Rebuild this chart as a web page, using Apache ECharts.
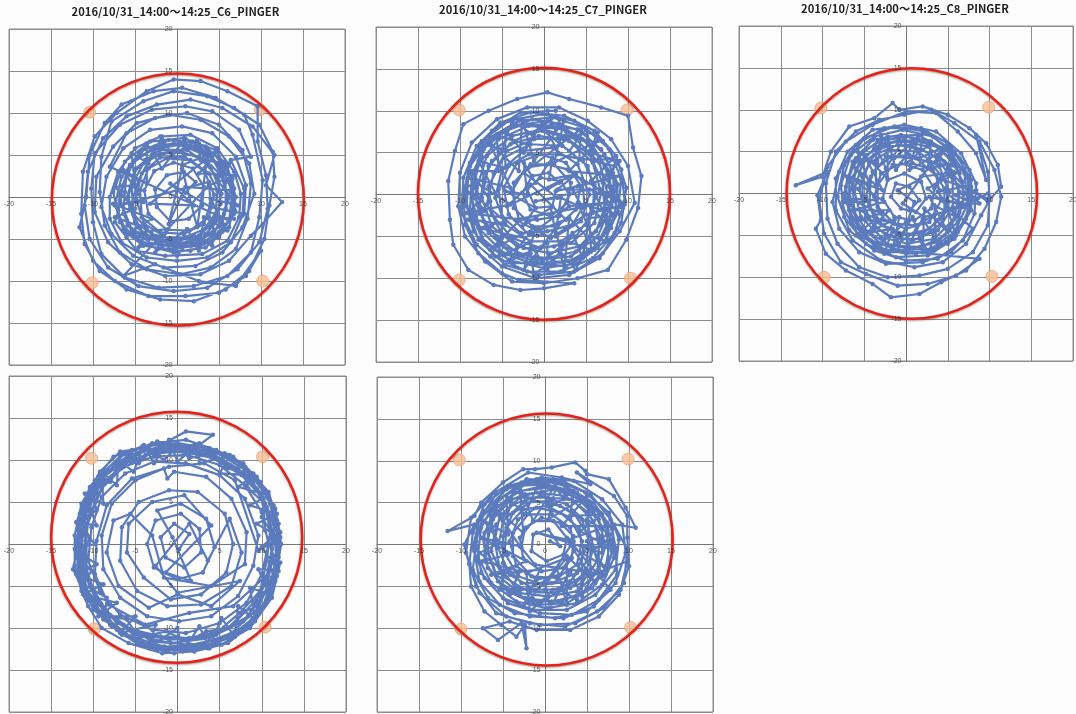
<!DOCTYPE html>
<html>
<head>
<meta charset="utf-8">
<style>
  html, body { margin: 0; padding: 0; background: #fff; }
  #chart { width: 1076px; height: 714px; }
</style>
</head>
<body>
<div id="chart"></div>
<script src="https://cdn.jsdelivr.net/npm/echarts@6/dist/echarts.min.js"></script>
<script>
const tickValues = [-20, -15, -10, -5, 0, 5, 10, 15, 20]
const titleC6 = "2016/10/31_14:00～14:25_C6_PINGER"
const titleC7 = "2016/10/31_14:00～14:25_C7_PINGER"
const titleC8 = "2016/10/31_14:00～14:25_C8_PINGER"

// the traces are far too tangled to read point by point
const c6Trace = [[1,0.5],[2.2,1.8],[0.8,3],[-1.2,2.6],[-2.6,0.9],[-2.4,-1.2],[-0.8,-2.9],[1.4,-2.6],[3,-1],[3.2,1.2],[1.9,3.4],[-0.4,4.1],[-2.7,3.1],[-3.9,0.8],[-3.4,-2],[-1.2,-3.9],[1.5,-4],[3.8,-2.4],[4.4,0.3],[3.3,3],[0.9,4.8],[-2,4.7],[-4.2,2.8],[-4.9,-0.2],[-3.9,-3.2],[-1,-5],[2.2,-4.9],[4.7,-2.8],[5.3,0.4],[4,3.6],[1.2,5.6],[-2.1,5.6],[-4.9,3.4],[-5.8,0],[-4.8,-3.6],[-1.8,-5.7],[1.7,-5.8],[5,-3.5],[6.1,-0.2],[5,3.4],[6.4,2.4],[4.4,5.2],[1,6.3],[-2.6,6],[-5.6,3.8],[-6.9,0.2],[-5.9,-3.4],[-3,-5.6],[0.6,-6],[4.2,-5.2],[6.5,-2.4],[6.8,1],[5.6,4.2],[2.6,6.4],[-1,6.8],[-4.4,5.4],[-6.6,2.4],[-7.4,-1],[-6,-4.2],[-2.4,-6.2],[1.6,-6.4],[5,-4.8],[6.9,-1.6],[6.6,2.2],[4.6,5.6],[0.8,7],[-3.2,6.6],[-6.2,4.2],[-7.6,0.6],[-6.8,-3],[-4.2,-5.6],[-0.4,-6.6],[3.4,-6],[6.2,-3.6],[7,0],[6,3.6],[3.4,6],[-0.4,6.4],[-3.8,5.8],[-6,3],[-6.8,-0.4],[-5.4,-3.8],[-2.2,-5.4],[1.2,-5.4],[4.4,-4.4],[5.8,-1.4],[5.8,1.8],[4.2,4.6],[1.4,5.8],[-2,5.2],[-5,3.2],[-6,-0.2],[-5,-3],[-2.4,-4.8],[1,-4.8],[3.8,-3.6],[5.2,-0.8],[4.8,2.4],[2.6,4.8],[-0.6,5.4],[-3.8,4.4],[-5.4,1.4],[-5.2,-2],[-3,-4.4],[0.2,-5.2],[3.4,-4.4],[5.6,-2],[6.4,0.8],[1,1.2],[-1,-3.2],[0.6,3.4],[2.4,-3.6],[3.6,4.6],[-3.2,-0.8],[2,-1],[-0.8,1.6],[4,-1.2],[8,-2],[8.2,1.4],[7,4.8],[4.2,7.6],[0.6,8.4],[-3.2,8],[-6.4,5.8],[-8.4,2.4],[-9,-1.2],[-7.8,-4.4],[-5.2,-7],[-1.6,-8.4],[2.2,-8.2],[5.4,-6.6],[7.8,-3.6],[9.2,0.4],[8.6,4],[6.2,7.2],[2.8,9.2],[-1,9.8],[-4.8,8.8],[-7.6,6],[-9.6,2.4],[-9.8,-1.8],[-8.2,-5.4],[-5.4,-8],[-1.4,-9.4],[2.8,-9.2],[6.2,-7.6],[8.8,-4.6],[10.2,-3.2],[12.5,-0.6],[10.6,1.4],[11.6,5],[9,8.4],[5.4,10.6],[1.6,11.6],[-2.4,11],[-6,9.6],[-8.8,7],[-10.6,3],[-11,-1],[-10.4,-5],[-8.2,-8.4],[-4.6,-10.6],[-0.4,-11.2],[3.6,-10.8],[7.2,-8.6],[9.8,-5.4],[10.8,-1.4],[10.6,2.6],[9.6,6.6],[9.6,10.8],[6,12.6],[2.8,13.8],[-0.4,14],[-3.6,12.6],[-7.2,10],[-9.8,7.2],[-11.2,3],[-11.4,-2],[-11,-5.6],[-9.2,-8.8],[-6,-11],[-2,-12.2],[2,-12.4],[5.8,-11],[8.6,-8.8],[10.4,-5],[11,-1],[11.6,2.4],[11.4,5.4],[9.8,8.6],[6.8,10.6],[3.6,12],[-0.4,12.6],[-4,11.4],[-7.8,9],[-9,4.8],[-9.2,0.6],[-8.6,-3.4],[-6.8,-6.6],[-3.6,-8.6],[0.4,-9.2],[4,-8.4],[7,-6.2],[8.4,-2.6],[8.8,1.6],[7.8,5.6],[5,8.6],[1.2,10],[-2.6,9.4],[-6,7.6],[-8,3.6],[6.2,-2.8],[6.6,0.6],[5.2,3.8],[3,5.4],[0.2,6.2],[-3,5.6],[-5.2,4.2],[-6.4,1.4],[-7,-1.6],[-6.4,-4],[-4,-5.8],[-1,-6.2],[2.4,-5.8],[5,-4.2],[6.8,-2],[6.6,1.4],[5.4,3],[4,5],[1.8,6.6],[-1.6,6.2],[-4.6,4.8],[-6,2.8],[-6.2,0.6],[-6.4,-2],[-5,-4.6],[-3.4,-5],[-0.4,-5.6],[2.6,-5.4],[5.4,-3.2],[6,-0.6],[5.4,2.4],[3.4,4.4],[0.4,5.4],[-3,5],[-4.6,2],[-5.6,-1.4],[-4,-4.4],[-1,-5.4],[2.6,-4.6],[4.6,-2],[4.8,0.8],[3.8,2.8],[1.6,4.4],[-1.2,4.6],[-3.4,3.4],[-4.4,0.8],[-4.2,-2.4],[-2,-4.2],[0.8,-4.4],[3.2,-3.2],[4,-0.8],[3.8,1.8],[-6.8,-1],[-7.4,-3],[-6,-4.8],[-4.8,-6.4],[-1.4,-7],[3,-6.8],[6,-5.2],[7.4,-2.4],[7.6,0.4],[6.8,3],[4.8,5.8],[1.6,7.4],[-2,7.2],[-5,5.8],[-7,3],[-8,0],[-8,-2.6],[-6.6,-5.4],[-3.6,-7.2],[0,-7.6],[3.6,-7.2],[6.4,-5.4],[7.8,-2.2],[8,1],[6.4,4.4],[8.8,4.8],[7.4,8],[4.2,10.2],[1,10.8],[-3,10.4],[-6.8,8.6],[-9.8,5.2],[-10.2,1],[-10,-3],[-9,-6.8],[-6.2,-9.6],[-2.2,-10.8],[2,-10.6],[6,-9.4],[8.8,-6.6],[9.8,-2.4],[10.2,2],[9,7.4],[8,9.8],[4.6,11.8],[0.6,13],[-2.8,12.6],[-6.6,11],[-8.6,8.8],[-10.4,5],[-10.8,0],[-11.6,-3.6],[-10,-7.6],[-7.4,-10],[-3.4,-11.8],[1,-11.8],[5,-11.4],[8.2,-9.4],[10,-6.4],[7,-10.6],[2.6,-10],[-2.6,-8],[-6.4,-9.4],[3.8,1.4],[7,2.6],[2.6,2.8],[4.8,5.4],[0.6,3.8],[1,7],[-1.8,3.4],[-3.6,6.4],[-3.6,1.6],[-6.4,3.2],[-4,-0.6],[-7.6,-0.8],[-3,-2.6],[-6,-4.4],[-1,-3.8],[-2.6,-6.6],[1.2,-3.8],[2.6,-6.4],[3.2,-2.4],[6,-4],[4,-0.2],[7.2,-1],[4.8,2],[6.2,4],[2.8,4.4],[2.4,6.8],[-0.6,5],[-1.8,7.2],[-3.4,4],[-5.4,5.2],[-5,1.4],[-7.4,1.2],[-5,-1.4],[-7.4,-2.4],[-3.6,-3.8],[-4.6,-6],[-1,-5],[0,-7],[2,-4.6],[4.2,-5.8],[4.4,-2.4],[6.8,-2.6]]

const c7Trace = [[0.4,0.6],[1.8,1.4],[0.6,2.6],[-1.4,2.2],[-2.6,0.2],[-1.6,-1.8],[0.8,-2.6],[2.8,-1],[3.2,1.4],[1.2,3.6],[-1.6,3.6],[-3.6,1.4],[-3.6,-1.6],[-1.4,-3.8],[1.6,-3.8],[3.8,-1.8],[4.4,1],[2.6,3.8],[-0.4,4.8],[-3.2,3.8],[-4.8,0.8],[-4.2,-2.4],[-1.8,-4.8],[1.4,-5],[4.4,-3.2],[5.4,0],[4,3.6],[1,5.6],[-2.4,5.2],[-5,3],[-5.8,-0.4],[-4.6,-3.6],[-1.6,-5.6],[2,-5.6],[5,-3.6],[6.2,-0.2],[5.2,3.4],[2.2,5.8],[-1.6,6],[-4.8,4.4],[-6.6,1],[-6.2,-2.4],[-3.8,-5.2],[-0.4,-6.4],[3.2,-5.8],[6,-3.4],[6.8,0.2],[5.8,3.8],[3,6.4],[-0.6,7],[-4,6],[-6.6,3.4],[-7.4,-0.4],[-6.2,-3.8],[-3.2,-6.2],[0.6,-7],[4.2,-6.2],[6.8,-3.6],[7.6,0],[6.6,3.8],[3.8,6.6],[0,7.8],[-3.8,7],[-6.8,4.6],[-8,0.8],[-7.2,-3.2],[-4.8,-6.2],[-0.8,-7.8],[3.2,-7.4],[6.4,-5],[8,-1.2],[7.8,2.6],[5.8,5.8],[2.2,7.8],[-1.8,8.2],[-5.4,6.6],[-7.8,3.6],[-8.6,-0.4],[-7.6,-4.2],[-4.8,-7],[-1,-8.4],[3,-8],[6.4,-6],[8.4,-2.6],[8.8,1.2],[7.2,4.8],[4.4,7.6],[0.4,8.8],[-3.6,8.2],[-6.8,6],[-8.6,2.4],[-8.8,-1.8],[-7.4,-5.2],[-4.2,-7.8],[0,-8.8],[4,-8.2],[7.2,-5.6],[8.8,-2],[9.2,1.8],[7.8,5.4],[4.8,8],[1,9.2],[-3,8.8],[-6.4,6.8],[-8.8,3.4],[-9.4,-0.6],[-8.4,-4.4],[-5.8,-7.4],[-2,-9.2],[2,-9.2],[5.8,-7.6],[8.4,-4.6],[9.6,-0.8],[9.2,3],[7,6.4],[3.6,8.8],[-0.2,9.6],[-4.2,8.8],[-7.4,6.4],[-9,2.8],[-9.2,-1.4],[-7.8,-5.4],[-4.6,-8.4],[-0.6,-9.6],[3.6,-9.2],[7,-7],[9.2,-3.4],[9.8,0.8],[8.6,4.6],[6,7.6],[2.4,9.4],[-1.6,9.8],[-5.2,8.6],[-8,5.8],[-9.6,2],[-9.8,-2.2],[-8,-6],[-5,-8.6],[-1,-10],[3,-9.6],[6.6,-7.6],[9,-4.4],[10.8,-1],[10,3.4],[8,6.6],[5.2,8.8],[1.8,10.4],[-2,10.4],[-5.6,9],[-8.6,6.2],[-10,2.6],[-10.2,-1.4],[-9.4,-5],[-7,-8],[-3.8,-10.4],[0,-10.6],[4,-10],[7.6,-9],[9.8,-5.4],[11.2,-1.6],[11.6,2.2],[10.6,5.6],[10,9.4],[6.8,10.4],[3,11.4],[0.4,12.2],[-3.2,11.4],[-6.6,10],[-9.6,8.4],[-10.6,5.2],[-11.4,1.6],[-11.2,-3],[-10.8,-6],[-9,-9],[-6,-10.8],[-2.8,-11.4],[0,-11.2],[3.6,-10.6],[-3,-10.2],[-5,-9.4],[-7.8,-7],[-9.4,-3.6],[-9.6,0],[-8.8,3.8],[-6.2,7.6],[-2.8,9.8],[1.4,10],[0.4,10],[2,6],[-2.4,2.6],[1.6,-0.4],[-1,-0.8],[5.4,0.6],[9,-0.8],[3,-1.4],[-1.4,-4.6],[2.6,-3],[-1.6,1.2],[-4.4,-1.4],[3.6,2.4],[9.6,-1.2],[5,-2.4],[0.8,-5.2],[-3.4,-3],[8.4,-0.8],[8.2,2.6],[6.8,5.4],[4,7.8],[0.8,8.2],[-2.4,8.4],[-5.6,7.2],[-7.6,5],[-8.6,1],[-8.4,-2.6],[-7,-5.8],[-3.6,-8.2],[-0.2,-8.2],[2.6,-8.6],[5.6,-6.8],[7.8,-4],[9,-1.4],[8.4,2],[6.6,4.4],[4.6,6.6],[1.6,8.4],[-1.4,9],[-4.6,7.6],[-7.2,5.4],[-8.2,2],[-8,-1.2],[-6.6,-4.6],[-4,-7],[-0.4,-8.2],[3.6,-7.8],[6,-6.6],[7.8,-3],[8.2,0.4],[7.2,3.4],[5.2,6.4],[2.4,7],[-0.8,7.6],[-3.6,6.4],[-6.2,4],[-7.2,1.6],[-7.8,-2],[-5.8,-5],[-2.8,-7.2],[0.4,-7.6],[3.8,-6.8],[6.2,-4.4],[7.2,-1.6],[7,1.4],[5.4,4.8],[2.6,6.8],[-1.2,6.6],[-4.4,5.2],[-6,2.6],[-6.8,-1.2],[-5.2,-4.4],[-2.4,-6.4],[1.2,-6.2],[3.8,-5],[5.8,-2.2],[6,1.2],[4.6,4.2],[1.6,4.8],[-1.8,4.8],[-4.2,3.4],[-5.4,0.6],[-5,-2.6],[-2.8,-4.6],[0.4,-4.4],[3.4,-3.6],[4.8,-1.2],[4.6,1.6],[2.8,3],[0.4,3.6],[-2.2,3.2],[-3.8,0.4],[-3,-3],[-0.8,-3],[1.8,-2.6],[3,0],[2,1.6],[-0.4,2],[-2,0.6],[-1,-1.6],[1,-1.4],[1.4,0.4],[4,1],[9,2.2],[3,2.8],[6.4,6.4],[1.2,3.8],[2.4,8.8],[-1.2,4],[-2.6,9],[-3,2.8],[-6.6,6.4],[-4,0.8],[-9,2],[-4,-1.2],[-9.2,-2.2],[-2.8,-3],[-6.4,-6.6],[-1,-4],[-2.4,-9],[1.4,-4],[2.4,-9],[3,-2.8],[6.4,-6.4],[4,-1],[9,-2.4],[5.6,1.6],[8.2,4.2],[4.2,4.2],[4.4,7.8],[1.4,5.6],[-0.2,8.6],[-2.4,5],[-4.6,7.6],[-4.6,3.2],[-7.8,4],[-5.8,0.2],[-8.4,0],[-4.6,-3.2],[-7.8,-4],[-2.2,-5.2],[-4.2,-8],[0.4,-5.8],[0.4,-9],[3.4,-4.6],[4.6,-7.6],[5.6,-1.6],[8,-4],[6,0.2],[8.6,0.4],[7.2,2],[9,4],[5.4,5],[6.4,7.4],[2.8,7],[1.4,9.4],[-1.4,7.2],[-3.8,8.8],[-5,5.4],[-7.4,6],[-7.2,1.8],[-9.4,0.8],[-7,-2],[-9.2,-3],[-5,-5.2],[-6.4,-7.4],[-1.6,-7],[-1.2,-9.6],[2,-7],[3.8,-9],[5.4,-5],[7.6,-5.6],[7.2,-1.6],[9.4,-1.6],[7.6,1],[8.4,3.4],[6,4],[5,7.8],[3,5.2],[-0.6,8],[-2,6],[-5.6,7],[-5.4,2.8],[-8.6,2.8],[-6.4,-0.8],[-8.4,-3],[-5,-3.6],[-5.4,-7.4],[-1.8,-5.8],[-0.2,-8],[2.8,-5.6],[5.6,-6.6],[5.4,-2.8],[8.2,-2.6],[6.8,0.6],[1.6,0.6],[3.8,2.4],[0.6,1.8],[1,4.4],[-1,1.4],[-2.4,3.8],[-2,0],[-4.6,0.4],[-1,-1.6],[-2.6,-3.8],[0.8,-1.6],[1.4,-4.6],[2,-0.4],[4.6,-1.6],[3.4,0.6]]

const c8Trace = [[0.4,-2],[1.6,-0.8],[0.4,0.8],[-1.2,1.2],[-1.8,-0.4],[-0.6,-1.8],[1.2,-2.2],[2.4,-0.6],[1.8,1.4],[-0.2,2.4],[-2.2,1.6],[-2.8,-0.6],[-1.4,-2.8],[1,-3.2],[3,-1.8],[3.4,0.6],[2,2.8],[-0.6,3.6],[-3,2.4],[-3.8,-0.4],[-2.6,-3.2],[0,-4.2],[2.8,-3.4],[4.2,-0.8],[3.6,2.2],[1.2,4.2],[-1.8,4.4],[-4,2.6],[-4.8,-0.4],[-3.6,-3.4],[-1,-4.8],[2,-4.8],[4.4,-2.8],[5.2,0.2],[4,3.2],[1.4,5],[-1.8,5.2],[-4.4,3.6],[-5.6,0.6],[-4.8,-2.8],[-2.4,-5],[0.8,-5.6],[3.8,-4.4],[5.6,-1.6],[5.6,1.6],[3.6,4.4],[0.6,5.8],[-2.6,5.6],[-5.2,3.6],[-6.2,0.4],[-5.4,-2.8],[-3,-5.2],[0.2,-6],[3.4,-5.4],[5.8,-3],[6.4,0.2],[5.2,3.4],[2.6,5.6],[-0.8,6.4],[-3.8,5.4],[-6,3],[-6.8,-0.4],[-5.8,-3.6],[-3,-6],[0.4,-6.6],[3.8,-5.8],[6.2,-3.4],[7,0],[6,3.4],[3.4,5.8],[0,6.8],[-3.4,6.2],[-6,4.2],[-7.2,0.8],[-6.6,-2.8],[-4.2,-5.6],[-0.8,-6.8],[3,-6.6],[5.8,-4.6],[7.4,-1.2],[7,2.4],[4.8,5.2],[1.4,7],[-2.2,6.8],[-5.2,5],[-7,2],[-7.6,-1.6],[-5.8,-4.8],[-2.6,-6.8],[1.2,-7.2],[4.8,-5.8],[7.2,-3],[7.8,0.8],[6.4,4.2],[3.2,6.8],[-0.4,7.6],[-3.8,6.8],[-6.6,4.6],[-7.8,1],[-7.4,-2.8],[-4.8,-6],[-1.2,-7.6],[2.6,-7.4],[5.8,-5.4],[7.8,-2],[7.8,1.6],[5.8,5],[2.2,7.4],[-1.4,8],[-5,6.6],[-7.4,3.4],[-8.2,-0.4],[-6.8,-4.4],[-3.8,-6.8],[0,-8],[3.8,-7.8],[6.8,-5.6],[8.2,-2.4],[8.4,1.2],[6.6,4.8],[3.6,7.4],[-0.2,8.2],[-4,7.6],[-7,5],[-8.4,1.8],[-8.4,-2],[-6.4,-5.6],[-3,-8],[1,-8.8],[4.4,-8.2],[7.2,-6],[9,-2.6],[10,-0.8],[7.6,0.6],[9.8,-1],[11.4,0.8],[11,3.4],[9.6,6],[7.6,7.8],[5,9.4],[2,10.4],[-0.8,10],[-1.6,10.8],[-3.8,9],[-6.8,8],[-9,5],[-10,2],[-13.2,1],[-9.4,2.6],[-10.6,-0.2],[-10.2,-3.2],[-10.8,-4.2],[-9.6,-7.2],[-7.2,-9.2],[-4,-10.8],[-1.8,-12.4],[1.6,-12],[4.2,-10.6],[7.2,-9.2],[9.4,-6.6],[10.8,-3.4],[11.4,-0.4],[10.6,2.8],[8.8,6.2],[5.8,8.4],[3,10],[-0.2,9.4],[-3.2,8.8],[-6,7.4],[-8.4,5],[-9.6,1.2],[-9.4,-3],[-8.2,-6],[-5.6,-8.8],[-2.2,-10],[1.6,-9.8],[5,-9],[8,-7],[9.8,-3.8],[10,-0.4],[9.8,2.6],[8.4,7],[9.6,1.6],[8.4,4.8],[6.2,7.4],[3.6,9.6],[0,9.8],[-4,8.2],[-7.2,6.2],[-9.4,3.2],[-10.4,-0.8],[-9.8,-4.8],[-7.8,-8.2],[-4.8,-9.6],[-1,-11],[2.6,-10.8],[6,-9.8],[8.8,-7.8],[-1,-6.8],[1,-1],[-1,0.4],[1.6,1.6],[-0.4,-1.2],[2.2,-2.8],[6.8,-1.6],[6.8,1.4],[5.4,4.2],[2.8,6.2],[-0.6,7],[-4,6.4],[-6.4,3.8],[-7.4,0],[-6.4,-3.6],[-3.6,-6.4],[0,-7.2],[3.4,-6.8],[6.2,-4.6],[7.6,-1.8],[7.4,1.8],[5.6,4.6],[3,6.2],[0,6.2],[-3,6],[-5.6,3.8],[-6.4,1.2],[-6.2,-2.2],[-4.6,-4.6],[-1.8,-6.2],[1.8,-6.4],[4.6,-5],[6.4,-2.2],[6.2,1],[4.6,3.8],[2,5.2],[-1,5.8],[-3.8,4.6],[-5.2,2.2],[-5.2,-1.2],[-3.8,-4],[-1.2,-5.4],[1.6,-5.4],[4.2,-3.6],[5,-1.2],[4.8,1.4],[3,3.6],[0.4,4.6],[-2.4,4.4],[-4.2,2],[-4.4,-1.4],[-2.8,-3.8],[0.2,-5],[2.8,-4.2],[4.6,-2.2],[4.6,0.6],[3.2,2.8],[0.8,3.6],[-1.6,3.4],[-3.4,1],[-3.4,-1.6],[-1.4,-3.6],[1.2,-3.8],[3.4,-2.6],[8.6,-0.6],[9.8,0],[7.6,-1],[6,-0.2],[8.4,0.4],[6.4,-1.2],[8.8,-1.2],[5,3],[6.4,2.4],[4.2,5.4],[1,6.4],[-2,6],[-4.8,4.6],[-6.8,1.4],[-6.8,-2],[-5,-5.2],[-2,-7],[2,-7],[5,-6],[7,-3.4],[8,-0.8],[7.6,2.8],[5,6],[1.8,7.8],[-2.6,7.8],[-6,5.8],[-8,2.6],[-8.8,-1],[-8,-4.2],[-5.6,-7],[-2.4,-8.4],[2,-8.2],[5.4,-7],[8,-4.2],[2.6,0.6],[6.4,2.6],[1.8,2],[4.6,5.2],[0.4,2.8],[1.4,6.6],[-1.2,2.8],[-2.2,6.6],[-2.2,1.8],[-5,4.6],[-2.8,0.4],[-6.6,1.8],[-2.6,-1],[-6.4,-2],[-2,-2],[-4.8,-4.8],[-0.8,-2.8],[-1.6,-6.6],[0.8,-2.8],[2,-6.4],[2.2,-1.8],[5,-4.6],[2.8,-0.4],[6.6,-1.2],[3.4,1],[5.6,3.6],[2.6,3],[3,6],[0,3.6],[-0.2,6.6],[-2.4,3],[-3.6,5.6],[-3.6,1],[-6,3],[-3.6,-0.8],[-6.8,-0.6],[-3,-2.4],[-5.8,-3.2],[-1.4,-3.2],[-3,-6],[0,-3.4],[0.2,-6.4],[2,-3],[3.6,-5.6],[3.4,-1.4],[6,-2.8],[3.8,0.2],[6.8,0.8],[4,1.8],[7,3],[3.6,3.6],[5,5.8],[1.6,4.2],[2,7.2],[-1.4,4.2],[-3,7],[-3.4,3.4],[-5.8,5],[-4.4,1.2],[-7.4,2.2],[-4.4,-1],[-7.6,-1],[-3.6,-3],[-6,-5],[-1.6,-4.2],[-2.6,-7.2],[1.2,-4.4],[2.8,-7.2],[3.6,-3.2],[6,-5],[4.6,-0.8],[7.6,-1.6]]

const c9Trace = [[0.2,-0.6],[1.4,1.2],[-0.4,2.4],[-2,0.8],[-1.4,-1.6],[0.8,-2.8],[2.8,-1],[2.6,1.8],[0.4,3.6],[-2.6,2.8],[-3.6,0],[-2.8,-2.8],[0,-4.2],[3,-3.4],[4.4,-0.4],[3.4,3],[0.4,4.8],[-2.4,4],[-0.6,0.8],[1.6,-4.4],[-1.4,-3.4],[4,2.2],[0.8,5.8],[-3,5],[-5.8,2.4],[-6,-1],[-4,-4],[-0.8,-6.6],[2.8,-6],[5.8,-3.4],[6.6,0],[5.6,3.6],[2.4,6.2],[-1,6.4],[-4.6,5],[-6.6,2],[-6.8,-2],[-4.8,-5.6],[-1.2,-7.4],[2.8,-7.2],[6.4,-5],[7.6,-1],[6.2,3],[3.6,-2],[1.4,2.4],[-2.6,-2.6],[0,-5.8],[7.4,-4.4],[4,-7.4],[0,-6],[-3.4,-7.6],[-7,-5],[-8.4,-1],[-7.6,2.8],[-5.6,3.6],[-3,1],[-1.6,-4],[4,-5],[8,-2.4],[8.2,1.4],[6.4,5.4],[3.4,8],[-0.4,8.6],[-1.2,7.8],[-1.6,9],[-5,7.6],[-7.8,4.8],[-9,1],[-8.8,-3],[-6.8,-6.4],[-3.6,-8.6],[0.2,-9.2],[4,-8.6],[7.2,-6.2],[9,-2.6],[9.6,1],[8,5.4],[5,8.2],[1,9.6],[-2.8,9.8],[-6.2,8.4],[-9,5.6],[-10.2,2],[-10.6,-2],[-9.2,-5.6],[-6.8,-8.4],[-3,-10.2],[1,-10.6],[5,-9.4],[8.2,-7],[10,-3.6],[10.8,0],[10,3.8],[8,7],[5,9.4],[1.2,10.6],[-2.8,10.4],[-6.4,9.2],[-9,6.6],[-10.6,3],[-11.2,-1],[-10.4,-4.8],[-8.4,-8],[-5,-10.6],[-1,-11.4],[3,-11.2],[6.6,-9.6],[9.2,-6.8],[11,-3],[11.4,0.8],[10.6,4.4],[8.6,7.6],[5.4,10],[1.4,11.2],[-2.6,11],[-6.2,9.6],[-9.2,7],[-11,3.2],[-11.8,-0.8],[-11.2,-4.6],[-9,-8.4],[-5.6,-11],[-1.6,-12.2],[2.6,-12],[6.4,-10.6],[9.6,-7.6],[11.4,-3.4],[12,0.8],[11.4,4.6],[9.4,8],[6,10.6],[2,11.8],[-2,11.6],[-5.8,10.6],[-9,8],[-11,4.4],[-12,0.4],[-11.8,-3.6],[-10,-7.8],[-6.6,-10.8],[-2.4,-12.6],[2,-12.6],[6.2,-11],[9.6,-8.4],[11.6,-4.4],[12.3,0],[11.6,4.2],[9.8,7.4],[6.6,10.4],[2.6,11.8],[4.2,13],[1,13.4],[-1.6,12],[-5.4,11.2],[-6.8,11],[-9.2,8.6],[-11.4,4.8],[-12.2,1],[-12.2,-2.6],[-11.4,-5.6],[-10.6,-7.4],[-9,-10],[-5.8,-11.8],[-1.8,-13],[2,-12.8],[6,-11.8],[9.2,-9.2],[11,-5.6],[12,-1.6],[11.8,2.8],[10.4,6.4],[8,9.2],[4.6,11.2],[1,12.4],[-3,12],[-6.8,10.4],[-9.8,7.6],[-11.6,3.6],[-12,-1.4],[-11,-5.4],[-8.8,-9],[-5.2,-11.4],[-1.2,-12.6],[3,-12.2],[6.8,-11],[9.8,-8],[11.8,-3.8],[11.8,1.6],[10.8,5.4],[8.4,8.6],[4.8,10.8],[0.6,11.8],[-3.4,11.2],[-7.2,9.8],[-9.8,6.6],[-11.4,2.6],[-11.6,-2],[-10.6,-6],[-8,-9.6],[-4.2,-11.8],[0,-12.4],[4.2,-11.8],[8,-10],[10.6,-6.6],[11.8,-2.6],[11.4,2.4],[10,6],[7.2,9],[3.6,11],[-0.8,11.6],[-4.8,10.8],[-8.2,8.6],[-10.6,5],[-11.4,0.4],[-10.8,-4.2],[-8.8,-8],[-5.2,-10.8],[-0.8,-11.8],[3.8,-11.2],[7.8,-9.2],[10.4,-5.8],[11.4,-1.4],[10.4,1.6],[10.2,4.8],[8.8,7.8],[6.2,9.4],[3,10.6],[-0.4,11],[-3.8,10.6],[-6.6,9.6],[-9.6,7.4],[-10.4,4.2],[-10.8,1],[-11,-2.6],[-10,-5.4],[-8,-8.6],[-5.4,-10.2],[-2,-11],[1.4,-11.2],[4.8,-10.4],[7.4,-8.2],[9.8,-5.6],[10.6,-2],[11,1.6],[10.2,5.4],[7.6,8.2],[4.2,10.2],[0.4,11.2],[-3.4,11.4],[-7,9.2],[-9.4,6],[-10.8,2.4],[-10.8,-3],[-9.6,-6.6],[-7.2,-9.4],[-3.4,-11],[0.6,-11.4],[4.6,-10.8],[8.4,-8.6],[10.4,-4.8],[11.2,-0.6],[11,3.4],[9.4,6.6],[6.6,9],[3.2,11],[-1.4,11.6],[-5.2,9.8],[-8.6,7.6],[-10.2,3.6],[-11.6,-0.2],[-11.6,-4.4],[-9.4,-7.2],[-6.4,-9.6],[-3,-11.6],[1.6,-12],[5.4,-11.2],[8.6,-9.4],[11,-6.4],[11.6,-2.8],[12.2,1.4],[11,4.8],[9,8.4],[5.6,10.8],[1.8,11.4],[-2.4,12.2],[-6,10.2],[-9.4,8],[-11.2,4.2],[-11.8,0],[-12.4,-3],[-10.6,-6.8],[-7.8,-9.8],[-4.6,-12],[-0.4,-13],[3.6,-12.4],[7.4,-10.4],[10.2,-7.4],[11.2,-4],[12,-0.6],[12,2.4],[10.8,6.2],[7.8,9.6],[3.8,11.4],[0,12],[-4.2,11.6],[-7.6,10.4],[-10.4,6.8],[-12,2.6],[-11.2,-3],[-9.8,-6.4],[-7.2,-10.2],[-3.2,-12.4],[1,-12.4],[5.2,-12],[8.6,-10],[11.2,-6.4],[12.2,-2.2],[6.6,-7.4],[1.4,-8.2],[-3.8,-9.6],[-8.2,-7.2],[-9.8,-3.6],[-9.6,0.4],[-8.4,4.6],[-5.4,7.8],[-1,9.2],[3.2,9.6],[6.8,7.6],[9.6,-0.8],[12.2,0.8],[9.4,2.4],[11.8,3.6],[8.6,4.6],[10.8,5.8],[7.2,6.8],[9,8.2],[5,8.4],[6.2,10.6],[2.6,9.6],[2.6,12],[0,9.8],[-1,12.4],[-2.8,9.6],[-4,11.8],[-5.2,8.6],[-7,10],[-7.2,7],[-9,8.6],[-8.8,4.8],[-11,6],[-9.6,2.2],[-12,2.6],[-9.8,0],[-12.2,-0.6],[-9.6,-2.4],[-12,-3.6],[-8.8,-4.8],[-11.2,-6],[-7.2,-7],[-9.4,-8.6],[-5,-8.6],[-6.8,-10.6],[-2.6,-9.6],[-3.4,-12.4],[0,-10],[0.6,-12.8],[2.6,-9.8],[3.8,-12.4],[5.2,-8.8],[6.8,-11],[7.2,-7.4],[9.2,-9],[8.6,-5.2],[11,-6],[9.6,-3],[12,-3.2],[10,-0.4],[11.4,1],[10,3.2],[10.4,4.8],[8.4,6.6],[8,8.6],[5.8,9],[4.2,11],[1.4,10.2],[0.2,11.8],[-1.6,10],[-3.2,11],[-4.6,9.6],[-6,10.4],[-8,7.4],[-10.2,6.4],[-9.6,4],[-11.4,3],[-10.4,0.6],[-11.6,-1.6],[-10.2,-3.2],[-11.2,-4.8],[-8.4,-6.4],[-8.6,-8.4],[-6,-9],[-4.6,-11.2],[-1.4,-10.4],[1.2,-11.6],[3.4,-10.4],[6,-10],[8,-8],[9.6,-7.4],[10.4,-4],[11.4,-2]]

const c10Trace = [[0.6,0.4],[1.8,-0.2],[0.4,1.8],[-1.4,1.2],[-1.6,-0.8],[0.2,-2],[2.2,-1.2],[2.6,0.8],[1,2.8],[-1.4,2.8],[-3,0.8],[-2.6,-1.6],[-0.4,-3.2],[2.2,-2.8],[3.6,-0.6],[3,2],[0.8,3.6],[-2,3.6],[-3.8,1.4],[-3.8,-1.4],[-1.6,-3.8],[1.4,-4],[3.8,-2.4],[4.4,0.4],[3,3.2],[0.2,4.6],[-2.6,4.2],[-4.6,2],[-4.8,-1],[-3.2,-3.8],[-0.2,-4.8],[3,-4.4],[5,-2],[5.2,1],[3.4,3.8],[0.6,5.2],[-2.6,5],[-5,2.8],[-5.6,-0.4],[-4.2,-3.6],[-1.2,-5.4],[2.2,-5.4],[4.8,-3.4],[5.8,-0.4],[5,2.6],[2.6,4.8],[-0.6,5.8],[-3.8,4.8],[-5.8,2.4],[-6.4,-0.8],[-5,-3.8],[-2,-5.6],[1.4,-5.8],[4.4,-4.6],[6.2,-2],[6.6,1],[5.2,3.8],[2.4,5.8],[-1,6.2],[-4,5.4],[-6.2,3],[-7,-0.2],[-5.8,-3.6],[-3,-5.8],[0.4,-6.2],[3.8,-5.6],[6.2,-3.4],[7.2,-0.2],[6.4,3],[3.8,5.6],[0.4,6.8],[-3,6.4],[-5.6,4.6],[-7.2,1.4],[-7.2,-2],[-5,-5.2],[-1.8,-6.8],[2,-6.8],[5,-5.4],[7.2,-2.8],[7.8,0.6],[6.6,3.8],[3.8,6.2],[0.2,7.2],[-3.2,7],[-6,5],[-7.6,2],[-8,-1.4],[-6.4,-4.6],[-3.4,-6.8],[0.2,-7.6],[3.8,-7],[6.8,-4.8],[8.2,-1.6],[8,1.8],[5.8,5],[2.4,7],[-1,7.8],[-4.6,6.6],[-7.2,4],[-8.2,0.4],[-7.6,-3.4],[-5,-6.4],[-1.4,-7.8],[2.6,-7.8],[6,-6],[8.4,-3],[8.8,0.6],[7.6,3.8],[4.8,6.2],[1,7.8],[-2.8,7.4],[-5.8,6],[-8,2.8],[-8.4,-0.8],[-7.8,-4.4],[-5.4,-7.2],[-1.8,-8.6],[2.2,-8.8],[5.8,-7.4],[8.4,-4.6],[9.6,-1],[9.2,2.4],[6.8,5.4],[3.4,7.6],[-0.4,8],[-4.4,7],[-7.2,4.8],[-8.6,1.4],[-9,-2.2],[-7.8,-5.8],[-4.6,-8.6],[-0.6,-9.6],[3.6,-9.4],[7,-7.6],[9.4,-4.6],[9.8,-0.6],[8.2,2.4],[10.8,2],[9.6,4.4],[7.6,7.8],[5,8.4],[4.8,8.8],[3.6,9.8],[0.8,9.2],[-1.2,9],[-2.6,9],[-5,7.4],[-7.6,5],[-8.4,3.4],[-11.6,1.6],[-8.4,2.4],[-9.6,0],[-9,-2.4],[-8.8,-5],[-7.2,-8],[-5.2,-9.6],[-3.4,-11],[-2.4,-9.6],[-2.2,-12.4],[-2.8,-9.4],[-5.6,-11.4],[-7.4,-10],[-4.2,-9.2],[-1,-10.2],[3,-10.2],[6.4,-8.6],[8.8,-6],[10,-2.6],[9.8,0.8],[9.8,3.4],[8.2,5.8],[3.8,8.6],[5.4,7.2],[2,8],[-2,8.6],[-6,6.2],[-8.8,3.2],[-9.4,-1],[-8.2,-5],[-5.8,-8.2],[-1.8,-9.4],[2.4,-9.8],[6.2,-8],[9,-5.4],[9.8,-2],[1,-5.4],[-1.8,-8],[-2.2,-3.4],[2.6,-1.6],[0.4,-4.2],[3.4,0.4],[-1,1.4],[6.8,-1],[6.8,1.8],[5.6,4.4],[3,6.2],[-0.2,7],[-3.6,6.2],[-6,4.2],[-7.4,0.8],[-6.8,-2.8],[-4.4,-5.6],[-1,-7.2],[2.6,-7],[5.6,-5.2],[7.6,-2.4],[7.4,1.2],[6,3.4],[4.2,5.4],[1.2,6.6],[-2.4,6],[-4.8,5],[-6.8,2.4],[-6.8,-1],[-5.6,-4.4],[-2.4,-6.4],[0.8,-6.8],[4.4,-6],[6.4,-2.6],[6.4,0.2],[5.8,2.8],[3.2,5.4],[0.2,5.6],[-3,5.6],[-5.4,3.4],[-6,0.4],[-5.4,-2.8],[-3.4,-5.2],[0,-5.4],[3,-5.2],[5.4,-3],[5.4,0],[4.4,3],[1.8,4.6],[-1.4,5.2],[-3.8,3.8],[-5,1],[-5,-2.2],[-2.8,-4.6],[0.8,-4.6],[3.8,-3.4],[4.6,-0.8],[4,2],[1.8,3.8],[-1,4.4],[-3.2,3],[-4.2,0.4],[-3.4,-2.6],[-1,-4.2],[1.8,-3.6],[3.2,-1.6],[3.4,1],[1.8,2.6],[-0.4,3.2],[-2.4,2],[-2.8,-0.4],[-1.2,-2.4],[7.2,-3.6],[8,-0.8],[7.4,2.6],[5,5.2],[1.6,7.4],[-1.8,7.4],[-5.2,5.6],[-7.8,3],[-8.6,-0.4],[-7.2,-4],[-4.4,-7],[-0.6,-8.2],[3.2,-8.4],[6.4,-6.6],[8.6,-3.6],[8.4,-0.4],[7.8,3],[5.4,6],[2,7.6],[-2.2,7.8],[-5.4,5.4],[-8,1.6],[-8.6,-3],[-6.8,-6.4],[-3.6,-8.2],[1.2,-8.8],[5,-8],[7.8,-5.4],[2.8,0.6],[7.6,2.2],[2,2.2],[5,5.8],[0.4,3],[1.4,7.4],[-1.4,2.8],[-3,7],[-2.6,1.4],[-6,4.4],[-3,-0.2],[-7.6,0.8],[-2.2,-2],[-6.4,-3.6],[-0.6,-3],[-2.6,-7.4],[1.4,-2.8],[2.6,-7.2],[2.6,-1.4],[6,-4.6],[3,0],[7.8,-0.4],[4.2,1.6],[6.8,3.6],[3,3.4],[3.4,6.4],[0.6,4.4],[-0.8,7.2],[-2.4,3.6],[-4.6,5.8],[-4.4,1.2],[-7.2,2.8],[-4.4,-1.2],[-7.4,-2],[-3,-3.2],[-4.2,-6],[0,-4.4],[0.6,-7.6],[3,-3.2],[4.4,-6.2],[4.4,-1],[7,-2.6],[5,0.4],[7.8,1.2],[5,3],[5.4,5],[2.2,5.4],[1.2,7],[-1.4,5.4],[-3.8,6.4],[-4.4,3.6],[-6.6,3.6],[-5.8,0],[-7.8,-1],[-4.8,-3.2],[-5.4,-5.4],[-2,-5.4],[-0.8,-7.2],[1.8,-5.4],[3.8,-6.6],[4.8,-3],[6.8,-3.8],[5.8,-0.6],[7.4,0.4]]

const c6Corners = [[-10.4, 10.1], [9.9, 10.4], [-10.1, -10.2], [10.2, -10]]
const c7Corners = [[-10.1, 10.1], [9.9, 10.1], [-10.1, -10.2], [10.3, -10]]
const c8Corners = [[-10.2, 10.2], [9.9, 10.3], [-9.8, -10], [10.3, -9.9]]
const c9Corners = [[-10.2, 10.2], [10.1, 10.4], [-9.9, -10.1], [10.4, -9.9]]
const c10Corners = [[-10.2, 10.1], [9.9, 10.2], [-10, -10.1], [10.2, -9.9]]

const c6Circle = [0.1, -0.3, 15]
const c7Circle = [0, 0.1, 15]
const c8Circle = [0.7, 0, 15]
const c9Circle = [-0.1, 0.8, 14.9]
const c10Circle = [0.2, 0.6, 15]

const panels = [
  { title: titleC6, trace: c6Trace, corners: c6Corners, circle: c6Circle, left: 9, top: 29, width: 336, height: 336, titleX: 170.5, titleY: 1 },
  { title: titleC7, trace: c7Trace, corners: c7Corners, circle: c7Circle, left: 376, top: 27, width: 336, height: 335, titleX: 538, titleY: -1 },
  { title: titleC8, trace: c8Trace, corners: c8Corners, circle: c8Circle, left: 739, top: 26, width: 334, height: 335, titleX: 900, titleY: -2 },
  { trace: c9Trace, corners: c9Corners, circle: c9Circle, left: 9, top: 376, width: 337, height: 336 },
  { trace: c10Trace, corners: c10Corners, circle: c10Circle, left: 377, top: 377, width: 336, height: 335 },
]

const chart = echarts.init(document.getElementById("chart"))

const axisBase = {
  type: "value",
  min: -20,
  max: 20,
  interval: 5,
  axisLine: { onZero: true, lineStyle: { color: "#777", width: 1 } },
  axisTick: { show: false },
  axisLabel: { show: false },
  splitLine: { show: true, lineStyle: { color: "#8c8c8c", width: 1 } },
}

const tickLabel = (position) => ({
  show: true,
  position: position,
  distance: 3,
  fontSize: 7,
  color: "#333",
  fontFamily: "Liberation Sans",
})

const grids = []
const xAxes = []
const yAxes = []
const series = []
const titles = []

panels.forEach((p, i) => {
  grids.push({ show: true, outerBoundsMode: "none", left: p.left, top: p.top, width: p.width, height: p.height, borderColor: "#8c8c8c", borderWidth: 1, backgroundColor: "transparent" })
  xAxes.push({ ...axisBase, gridIndex: i })
  yAxes.push({ ...axisBase, gridIndex: i })
  if (p.title) {
    titles.push({
      text: p.title,
      left: p.titleX,
      top: p.titleY,
      textAlign: "center",
      textStyle: { fontSize: 11.2, fontWeight: "bold", color: "#222", fontFamily: "Noto Sans CJK JP" },
    })
  }
  series.push({
    type: "scatter",
    xAxisIndex: i,
    yAxisIndex: i,
    data: p.corners,
    symbolSize: 12,
    z: 2,
    itemStyle: { color: "#f6bd92", borderColor: "#e9a878", borderWidth: 1 },
    silent: true,
  })
  series.push({
    type: "line",
    xAxisIndex: i,
    yAxisIndex: i,
    data: p.trace,
    z: 3,
    symbol: "circle",
    symbolSize: 4.5,
    showSymbol: true,
    showAllSymbol: true,
    animation: false,
    lineStyle: { color: "#5b7bbd", width: 2.2 },
    itemStyle: { color: "#5b7bbd" },
    silent: true,
  })
  series.push({
    type: "custom",
    xAxisIndex: i,
    yAxisIndex: i,
    data: [p.circle],
    z: 4,
    silent: true,
    encode: { x: 0, y: 1 },
    renderItem: (params, api) => {
      const center = api.coord([api.value(0), api.value(1)])
      const r = api.size([api.value(2), 0])[0]
      return {
        type: "circle",
        shape: { cx: center[0], cy: center[1], r: r },
        style: {
          fill: "none",
          stroke: "#e8201c",
          lineWidth: 2.5,
          shadowColor: "rgba(90,70,40,0.55)",
          shadowBlur: 2,
          shadowOffsetX: 0,
          shadowOffsetY: 1,
        },
      }
    },
  })
  // tick labels sit on the zero lines, so they go on as label-only points
  series.push({
    type: "scatter",
    xAxisIndex: i,
    yAxisIndex: i,
    data: tickValues.map((t) => [t, 0]),
    symbolSize: 1,
    z: 5,
    silent: true,
    itemStyle: { color: "transparent" },
    label: { ...tickLabel("bottom"), formatter: (d) => String(d.value[0]) },
  })
  series.push({
    type: "scatter",
    xAxisIndex: i,
    yAxisIndex: i,
    data: tickValues.map((t) => [0, t]),
    symbolSize: 1,
    z: 5,
    silent: true,
    itemStyle: { color: "transparent" },
    label: { ...tickLabel("left"), distance: 4, formatter: (d) => String(d.value[1]) },
  })
})

chart.setOption({
  animation: false,
  backgroundColor: "#fdfdfd",
  title: titles,
  tooltip: { show: false },
  grid: grids,
  xAxis: xAxes,
  yAxis: yAxes,
  series: series,
})
</script>
</body>
</html>
